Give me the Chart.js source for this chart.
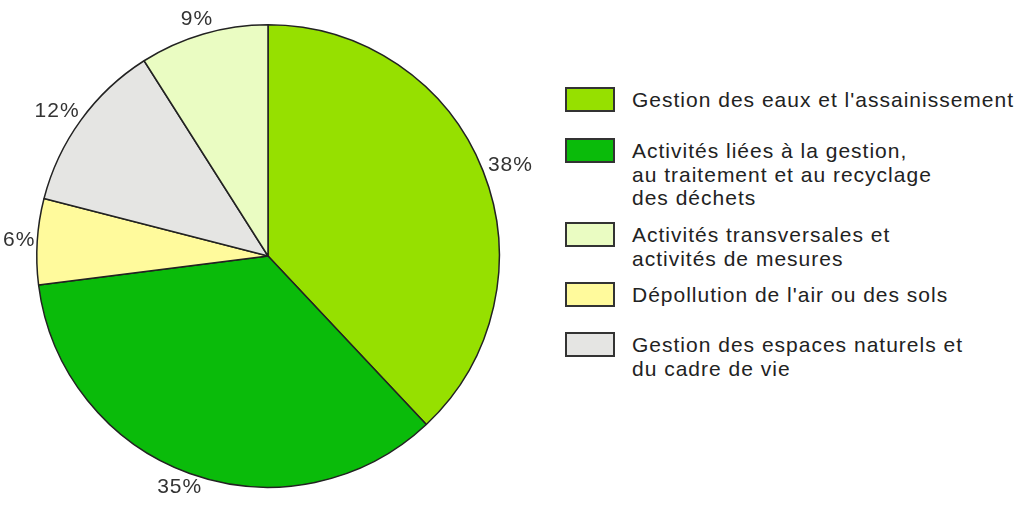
<!DOCTYPE html>
<html>
<head>
<meta charset="utf-8">
<script src="https://cdn.jsdelivr.net/npm/chart.js@4/dist/chart.umd.min.js"></script>
<style>
  body { margin: 0; background: #fff; }
  #wrap { position: relative; width: 1030px; height: 516px; }
  #pieBox { position: absolute; left: 0; top: 0; width: 536px; height: 516px; }
  #legend { position: absolute; left: 565px; top: 0; font-family: "Liberation Sans", Arial, sans-serif; font-size: 21px; letter-spacing: 1px; color: #222; }
  .item { position: absolute; left: 0; white-space: nowrap; }
  .box { position: absolute; left: 0; width: 46px; height: 21px; border: 2px solid #333; }
  .txt { position: absolute; left: 67px; line-height: 23.5px; }
</style>
</head>
<body>
<div id="wrap">
  <div id="pieBox"><canvas id="pie"></canvas></div>
  <div id="legend"></div>
</div>
<script>
// pie order, clockwise from the top
var categories = [
  "Gestion des eaux et l'assainissement",
  "Activités liées à la gestion,\nau traitement et au recyclage\ndes déchets",
  "Dépollution de l'air ou des sols",
  "Gestion des espaces naturels et\ndu cadre de vie",
  "Activités transversales et\nactivités de mesures"
];
var shares = [38, 35, 6, 12, 9];
var colours = ['#96e000', '#0abb0a', '#fffa9c', '#e5e5e3', '#eafcc2'];
var legendOrder = [0, 1, 4, 2, 3];

// legend, built in html so the wrapped lines stay real text
var legendTops = [87, 138, 222, 282, 332];
var legend = document.getElementById('legend');
legendOrder.forEach(function(idx, k) {
  var item = document.createElement('div');
  item.className = 'item';
  item.style.top = legendTops[k] + 'px';
  var box = document.createElement('div');
  box.className = 'box';
  box.style.background = colours[idx];
  var txt = document.createElement('div');
  txt.className = 'txt';
  txt.style.top = '1px';
  txt.innerHTML = categories[idx].split('\n').join('<br>');
  item.appendChild(box);
  item.appendChild(txt);
  legend.appendChild(item);
});

// percentages just outside the rim
var pctLabels = {
  id: 'pctLabels',
  afterDatasetsDraw: function(chart) {
    var ctx = chart.ctx;
    var meta = chart.getDatasetMeta(0);
    ctx.save();
    ctx.font = '21px "Liberation Sans", Arial, sans-serif';
    ctx.letterSpacing = '1px';
    ctx.fillStyle = '#333';
    ctx.textAlign = 'center';
    ctx.textBaseline = 'middle';
    meta.data.forEach(function(arc, i) {
      var txt = shares[i] + '%';
      var w = ctx.measureText(txt).width, h = 16;
      var mid = (arc.startAngle + arc.endAngle) / 2;
      var r = arc.outerRadius + 7;
      var x = arc.x + Math.cos(mid) * (r + w / 2);
      var y = arc.y + Math.sin(mid) * (r + h / 2);
      x = Math.max(w / 2 + 3, x);
      ctx.fillText(txt, x, y);
    });
    ctx.restore();
  }
};

var ctx = document.getElementById('pie');
var pieChart = new Chart(ctx, {
  type: 'pie',
  data: {
    labels: categories,
    datasets: [{
      data: shares,
      backgroundColor: colours,
      borderColor: '#222',
      borderWidth: 1.5
    }]
  },
  options: {
    responsive: true,
    maintainAspectRatio: false,
    animation: false,
    layout: { padding: { left: 36, right: 36, top: 24, bottom: 28 } },
    plugins: {
      legend: { display: false },
      tooltip: { enabled: false }
    }
  },
  plugins: [pctLabels]
});
</script>
</body>
</html>
